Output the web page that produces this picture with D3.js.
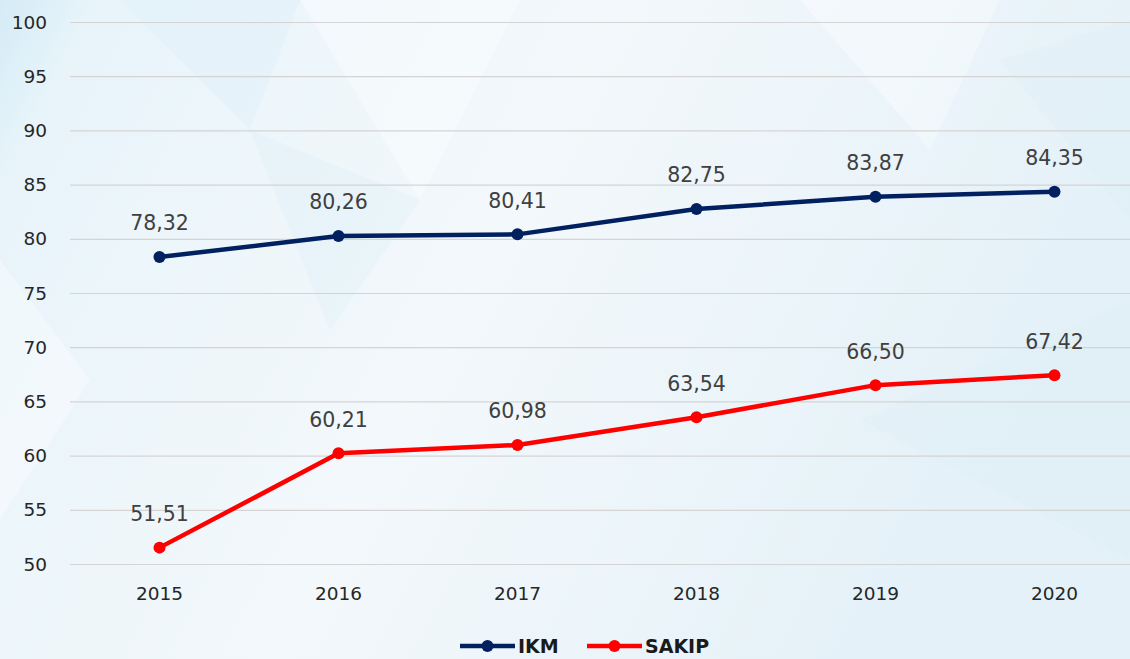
<!DOCTYPE html>
<html>
<head>
<meta charset="utf-8">
<script src="https://cdn.jsdelivr.net/npm/d3@7"></script>
<style>
  html, body { margin: 0; padding: 0; overflow: hidden; }
  svg { display: block; }
</style>
</head>
<body>
<div id="chart"></div>
<script>
// Chart data.
const years = ["2015", "2016", "2017", "2018", "2019", "2020"];
const ikm = [78.32, 80.26, 80.41, 82.75, 83.87, 84.35];
const sakip = [51.51, 60.21, 60.98, 63.54, 66.50, 67.42];
const yTicks = [50, 55, 60, 65, 70, 75, 80, 85, 90, 95, 100];

const width = 1130;
const height = 659;
const margin = { top: 22, right: -14, bottom: 95, left: 70 };

const svg = d3.select("#chart")
  .append("svg")
  .attr("width", width)
  .attr("height", height);

// Background gradient.
const defs = svg.append("defs");
const bg = defs.append("linearGradient")
  .attr("id", "bg")
  .attr("x1", 0).attr("y1", 0).attr("x2", 1).attr("y2", 0.3);
bg.append("stop").attr("offset", "0%").attr("stop-color", "#d4ebf6");
bg.append("stop").attr("offset", "8%").attr("stop-color", "#e8f4fa");
bg.append("stop").attr("offset", "50%").attr("stop-color", "#f3f8fb");
bg.append("stop").attr("offset", "100%").attr("stop-color", "#e4f1f8");

svg.append("rect")
  .attr("width", width)
  .attr("height", height)
  .attr("fill", "url(#bg)");

// Faint triangle shapes in the background.
const shards = [
  [[120, 0], [300, 0], [250, 130]],
  [[300, 0], [520, 0], [420, 200]],
  [[250, 130], [420, 200], [330, 330]],
  [[800, 0], [1000, 0], [930, 150]],
  [[1000, 60], [1130, 20], [1130, 220]],
  [[0, 260], [90, 380], [0, 520]],
  [[860, 420], [1130, 300], [1130, 560]]
];
svg.append("g")
  .selectAll("path")
  .data(shards)
  .join("path")
    .attr("d", d => "M" + d.join("L") + "Z")
    .attr("fill", (d, i) => i % 2 ? "#ffffff" : "#dcedf6")
    .attr("opacity", 0.35);

const x = d3.scalePoint()
  .domain(years)
  .range([margin.left, width - margin.right])
  .padding(0.5);

const y = d3.scaleLinear()
  .domain([50, 100])
  .range([564, margin.top]);

// Gridlines.
svg.append("g")
  .selectAll("line")
  .data(yTicks)
  .join("line")
    .attr("x1", margin.left)
    .attr("x2", width)
    .attr("y1", d => y(d) + 0.5)
    .attr("y2", d => y(d) + 0.5)
    .attr("stroke", "#d4d4d4")
    .attr("stroke-width", 1.2);

// Y axis labels.
svg.append("g")
  .selectAll("text")
  .data(yTicks)
  .join("text")
    .attr("x", 47)
    .attr("y", d => y(d))
    .attr("dy", "0.36em")
    .attr("text-anchor", "end")
    .attr("font-family", "DejaVu Sans")
    .attr("font-size", 18.5)
    .attr("fill", "#262626")
    .text(d => d);

// X axis labels.
svg.append("g")
  .selectAll("text")
  .data(years)
  .join("text")
    .attr("x", d => x(d))
    .attr("y", 593)
    .attr("dy", "0.36em")
    .attr("text-anchor", "middle")
    .attr("font-family", "DejaVu Sans")
    .attr("font-size", 18.5)
    .attr("fill", "#262626")
    .text(d => d);

const fmt = v => v.toFixed(2).replace(".", ",");

function series(values, color) {
  const pts = values.map((v, i) => ({ year: years[i], value: v }));
  const line = d3.line()
    .x(d => x(d.year))
    .y(d => y(d.value));

  svg.append("path")
    .datum(pts)
    .attr("fill", "none")
    .attr("stroke", color)
    .attr("stroke-width", 4.5)
    .attr("stroke-linejoin", "round")
    .attr("d", line);

  svg.append("g")
    .selectAll("circle")
    .data(pts)
    .join("circle")
      .attr("cx", d => x(d.year))
      .attr("cy", d => y(d.value))
      .attr("r", 6)
      .attr("fill", color);

  svg.append("g")
    .selectAll("text")
    .data(pts)
    .join("text")
      .attr("x", d => x(d.year))
      .attr("y", d => y(d.value) - 34)
      .attr("dy", "0.36em")
      .attr("text-anchor", "middle")
      .attr("font-family", "DejaVu Sans")
      .attr("font-size", 20.5)
      .attr("fill", "#404040")
      .text(d => fmt(d.value));
}

series(ikm, "#002060");
series(sakip, "#ff0000");

// Legend.
const legendItems = [
  { name: "IKM", color: "#002060", x: 460 },
  { name: "SAKIP", color: "#ff0000", x: 587 }
];
const legend = svg.append("g")
  .selectAll("g")
  .data(legendItems)
  .join("g")
    .attr("transform", d => `translate(${d.x}, 646)`);
legend.append("line")
  .attr("x1", 0).attr("x2", 55)
  .attr("stroke", d => d.color)
  .attr("stroke-width", 4.5);
legend.append("circle")
  .attr("cx", 27.5)
  .attr("r", 6)
  .attr("fill", d => d.color);
legend.append("text")
  .attr("x", 58)
  .attr("dy", "0.36em")
  .attr("font-family", "DejaVu Sans")
  .attr("font-weight", "bold")
  .attr("font-size", 19)
  .attr("fill", "#1a1a1a")
  .text(d => d.name);
</script>
</body>
</html>
